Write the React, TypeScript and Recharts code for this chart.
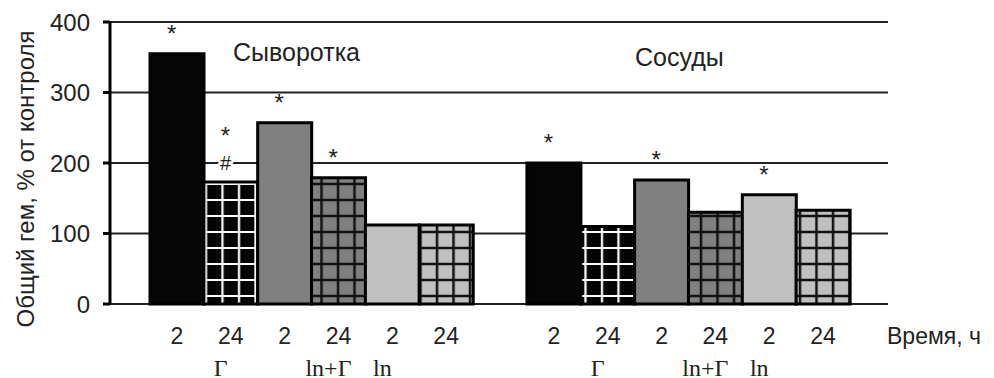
import React from "react";
import { BarChart, Bar, XAxis, YAxis, CartesianGrid, Cell, LabelList } from "recharts";

// Общий гем, % от контроля
const groups = ["Сыворотка", "Сосуды"];
const timeLabels = ["2", "24", "2", "24", "2", "24"];
const treatmentLabels = ["", "Г", "", "ln+Г", "ln", ""];
const serumValues = [355, 173, 257, 179, 112, 112];
const vesselValues = [200, 110, 176, 130, 155, 133];
const serumMarks = ["*", "*#", "*", "*", "", ""];
const vesselMarks = ["*", "", "*", "", "*", ""];
const yTicks = [0, 100, 200, 300, 400];

const SANS = "'Liberation Sans', Arial, sans-serif";
const SERIF = "'Liberation Serif', 'Times New Roman', serif";

// fill for bar position within a group
const barFills = [
  "#050505",
  "url(#gridWhite)",
  "#808080",
  "url(#gridGray)",
  "#c0c0c0",
  "url(#gridLight)",
];

const valuesByGroup = [serumValues, vesselValues];
const marksByGroup = [serumMarks, vesselMarks];

const data: any[] = [];
groups.forEach((g, gi) => {
  if (gi > 0) data.push({ key: "gap", time: "", treatment: "", value: null, mark: "", pos: -1 });
  timeLabels.forEach((t, i) => {
    data.push({
      key: `${g}-${i}`,
      time: t,
      treatment: treatmentLabels[i],
      value: valuesByGroup[gi][i],
      mark: marksByGroup[gi][i],
      pos: i,
    });
  });
});

const TimeTick = (props: any) => {
  const { x, y, index } = props;
  const row = data[index];
  if (!row) return null;
  return (
    <g>
      <text x={x} y={y + 40} textAnchor="middle" fontSize={23} fontFamily={SANS} fill="#222">
        {row.time}
      </text>
      {row.treatment && (
        <text x={x - 10} y={y + 72} textAnchor="middle" fontSize={24} fontFamily={SERIF} fill="#222">
          {row.treatment}
        </text>
      )}
    </g>
  );
};

const MarkLabel = (props: any) => {
  const { x, y, width, value } = props;
  if (!value) return null;
  const cx = Number(x) + Number(width) * 0.4;
  const top = Number(y);
  const chars = String(value).split("").reverse();
  return (
    <g>
      {chars.map((ch, k) => (
        <text
          key={k}
          x={cx}
          y={top - 12 - k * 26}
          textAnchor="middle"
          fontSize={ch === "#" ? 20 : 24}
          fontFamily={SANS}
          fill="#222"
          stroke={ch === "#" ? "#fff" : "none"}
          strokeWidth={ch === "#" ? 4 : 0}
          paintOrder="stroke"
        >
          {ch}
        </text>
      ))}
    </g>
  );
};

export default function App() {
  return (
    <div style={{ position: "absolute", left: 0, top: 0, background: "#fff" }}>
      <BarChart
        width={994}
        height={378}
        data={data}
        margin={{ top: 22, right: 106, bottom: 0, left: 10 }}
        barCategoryGap={0}
        barGap={0}
      >
        <defs>
          <pattern id="gridWhite" width="16.5" height="16" patternUnits="userSpaceOnUse">
            <rect width="16.5" height="16" fill="#050505" />
            <path d="M8 0 V16 M0 8 H16.5" stroke="#fff" strokeWidth="2.2" fill="none" />
          </pattern>
          <pattern id="gridGray" width="16.5" height="16" patternUnits="userSpaceOnUse">
            <rect width="16.5" height="16" fill="#808080" />
            <path d="M8 0 V16 M0 8 H16.5" stroke="#111" strokeWidth="2.5" fill="none" />
          </pattern>
          <pattern id="gridLight" width="16.5" height="16" patternUnits="userSpaceOnUse">
            <rect width="16.5" height="16" fill="#c0c0c0" />
            <path d="M8 0 V16 M0 8 H16.5" stroke="#111" strokeWidth="2.5" fill="none" />
          </pattern>
        </defs>
        <CartesianGrid vertical={false} stroke="#222" strokeWidth={2} />
        <XAxis
          dataKey="key"
          axisLine={false}
          tickLine={false}
          tickSize={0}
          tickMargin={0}
          height={74}
          interval={0}
          padding={{ left: 40, right: 38 }}
          tick={<TimeTick />}
        />
        <YAxis
          domain={[0, 400]}
          ticks={yTicks}
          width={100}
          axisLine={{ stroke: "#000", strokeWidth: 3 }}
          tickLine={{ stroke: "#000", strokeWidth: 3 }}
          tickSize={7}
          tickMargin={13}
          tick={{ fontSize: 24, fontFamily: SANS, fill: "#222" }}
        />
        <Bar dataKey="value" stroke="#000" strokeWidth={3} isAnimationActive={false}>
          {data.map((d, i) => (
            <Cell key={i} fill={d.pos >= 0 ? barFills[d.pos] : "none"} />
          ))}
          <LabelList dataKey="mark" content={<MarkLabel />} />
        </Bar>
        <text x={233} y={61} fontSize={25} fontFamily={SANS} fill="#222">
          Сыворотка
        </text>
        <text x={635} y={66} fontSize={25} fontFamily={SANS} fill="#222">
          Сосуды
        </text>
        <text x={887} y={344} fontSize={23} fontFamily={SANS} fill="#222">
          Время, ч
        </text>
        <text
          x={25}
          y={179}
          transform="rotate(-90, 25, 179)"
          textAnchor="middle"
          dominantBaseline="central"
          fontSize={24}
          fontFamily={SANS}
          fill="#222"
        >
          Общий гем, % от контроля
        </text>
      </BarChart>
    </div>
  );
}
